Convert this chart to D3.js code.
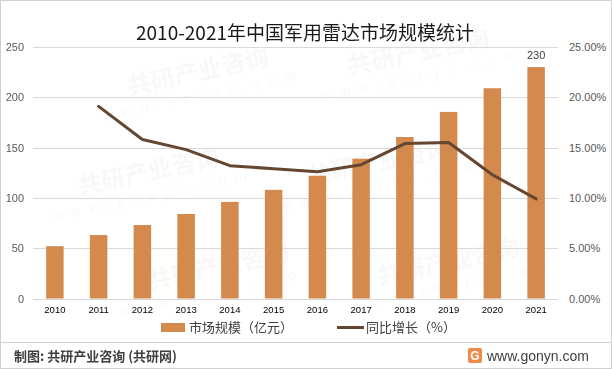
<!DOCTYPE html>
<html><head><meta charset="utf-8">
<script src="https://cdn.jsdelivr.net/npm/d3@7"></script>
<style>html,body{margin:0;padding:0;background:#fff;}svg{display:block;font-family:"Microsoft YaHei","Noto Sans CJK SC",sans-serif;}</style>
</head><body><svg id="c" width="612" height="369"></svg>
<script>
const years = ["2010","2011","2012","2013","2014","2015","2016","2017","2018","2019","2020","2021"];
const marketSize = [52,63,73,84,96,108,122,139,160.5,185.5,209,230];
const growth = [null,19.1,15.8,14.8,13.2,12.9,12.6,13.3,15.4,15.5,12.3,9.9];
const leftTicks = [0,50,100,150,200,250];
const rightTicks = [0,5,10,15,20,25];
const title = "2010-2021年中国军用雷达市场规模统计";
const legendLabels = ["市场规模（亿元）","同比增长（%）"];
const sourceText = "制图: 共研产业咨询 (共研网)";
const siteText = "www.gonyn.com";

const svg = d3.select("#c");
const W=612,H=369;
const barColor="#D38A4C", lineColor="#654630", gridColor="#D9D9D9";
svg.append("rect").attr("x",0.5).attr("y",0.5).attr("width",W-1).attr("height",H-1).attr("fill","#fff").attr("stroke","#D0D0D0");

// faint watermarks
const wm = svg.append("g").attr("fill","#000").attr("opacity",0.03).attr("font-weight","bold");
[[200,80],[420,60],[150,180],[380,170],[220,275],[450,270]].forEach(([x,y])=>{
  const g=wm.append("g").attr("transform",`translate(${x},${y}) rotate(-12)`);
  g.append("text").attr("text-anchor","middle").attr("font-size",24).text("共研产业咨询");
  g.append("text").attr("text-anchor","middle").attr("y",20).attr("font-size",13).attr("letter-spacing",8).attr("font-weight","normal").text("www.gonyn.com");
});

const x0=33,x1=558;
const x=d3.scaleBand().domain(years).range([x0,x1]).paddingInner(0.6).paddingOuter(0.3);
const yL=d3.scaleLinear().domain([0,250]).range([298.5,47]);
const yR=d3.scaleLinear().domain([0,25]).range([298.5,47]);

svg.append("text").attr("x",305).attr("y",40).attr("text-anchor","middle").attr("font-size",19).attr("fill","#1a1a1a").text(title);

// grid
svg.append("g").selectAll("line").data(leftTicks).join("line")
 .attr("x1",x0).attr("x2",x1).attr("y1",d=>Math.round(yL(d))+0.5).attr("y2",d=>Math.round(yL(d))+0.5)
 .attr("stroke",gridColor).attr("stroke-width",1);

// left axis
const la=svg.append("g").attr("transform","translate(24,0)").call(d3.axisLeft(yL).tickValues(leftTicks).tickSize(0).tickPadding(0));
la.select(".domain").remove();
la.selectAll("text").attr("font-size",11).attr("fill","#595959").attr("font-family","Liberation Sans, Arial, sans-serif").attr("text-anchor","end");

// right axis
const ra=svg.append("g").attr("transform","translate(569,0)").call(d3.axisRight(yR).tickValues(rightTicks).tickSize(0).tickPadding(0).tickFormat(d=>d.toFixed(2)+"%"));
ra.select(".domain").remove();
ra.selectAll("text").attr("font-size",11).attr("fill","#595959").attr("font-family","Liberation Sans, Arial, sans-serif");

// bars
svg.append("g").selectAll("rect").data(years).join("rect")
 .attr("x",d=>x(d)).attr("width",x.bandwidth())
 .attr("y",(d,i)=>yL(marketSize[i])).attr("height",(d,i)=>yL(0)-yL(marketSize[i]))
 .attr("fill",barColor);

// bottom axis
const ba=svg.append("g").attr("transform","translate(0,306)").call(d3.axisBottom(x).tickSize(0).tickPadding(0));
ba.select(".domain").remove();
ba.selectAll("text").attr("font-size",9.5).attr("fill","#000").attr("font-family","Liberation Sans, Arial, sans-serif");

// data label last
svg.append("text").attr("x",x(years[11])+x.bandwidth()/2).attr("y",yL(marketSize[11])-8).attr("text-anchor","middle")
 .attr("font-size",11).attr("fill","#404040").attr("font-family","Liberation Sans, Arial, sans-serif").text(marketSize[11]);

// line
const pts=years.map((d,i)=>[x(d)+x.bandwidth()/2,growth[i]]).filter(p=>p[1]!=null);
svg.append("path").datum(pts).attr("fill","none").attr("stroke",lineColor).attr("stroke-width",3).attr("stroke-linejoin","round").attr("stroke-linecap","round")
 .attr("d",d3.line().x(p=>p[0]).y(p=>yR(p[1])));

// legend
const lg=svg.append("g").attr("font-size",13).attr("fill","#404040");
lg.append("rect").attr("x",161).attr("y",323).attr("width",24).attr("height",9).attr("fill",barColor);
lg.append("text").attr("x",189).attr("y",332).attr("fill","#404040").text(legendLabels[0]);
lg.append("line").attr("x1",337).attr("x2",364).attr("y1",327.5).attr("y2",327.5).attr("stroke",lineColor).attr("stroke-width",3);
lg.append("text").attr("x",366).attr("y",332).attr("fill","#404040").text(legendLabels[1]);

// footer
svg.append("line").attr("x1",1).attr("x2",W-1).attr("y1",342.5).attr("y2",342.5).attr("stroke","#D0D0D0");
svg.append("text").attr("x",14).attr("y",361).attr("font-size",13).attr("font-weight","bold").attr("fill","#404040").text(sourceText);
const lo=svg.append("g").attr("transform","translate(468,348)");
lo.append("rect").attr("width",14).attr("height",15).attr("rx",2).attr("fill","#F08A4B");
lo.append("text").attr("x",7).attr("y",12).attr("text-anchor","middle").attr("font-size",12).attr("font-weight","bold").attr("fill","#fff").attr("font-family","Liberation Sans, Arial, sans-serif").text("G");
svg.append("text").attr("x",487).attr("y",361).attr("font-size",14).attr("fill","#404040").attr("font-family","Liberation Sans, Arial, sans-serif").text(siteText);
</script></body></html>
